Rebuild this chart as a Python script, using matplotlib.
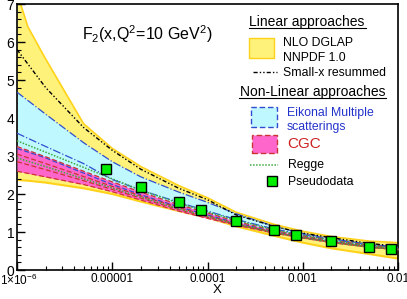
import numpy as np
import matplotlib
matplotlib.use("Agg")
from matplotlib import pyplot as plt
from matplotlib.patches import Rectangle
from matplotlib.lines import Line2D
from matplotlib.transforms import ScaledTranslation
from matplotlib.ticker import FixedLocator, LogLocator, NullFormatter, MultipleLocator

plt.rcParams["font.family"] = ["Liberation Sans", "DejaVu Sans"]
plt.rcParams["mathtext.fontset"] = "custom"
plt.rcParams["mathtext.rm"] = "Liberation Sans"

# x grid shared by all curves
x = [1e-6, 2e-6, 5e-6, 1e-5, 2e-5, 5e-5, 1e-4, 2e-4, 5e-4, 1e-3, 2e-3, 5e-3, 1e-2]

# NNPDF 1.0 band (yellow)
nnpdf_x = [1e-6, 1.3e-6, 2e-6, 5e-6, 1e-5, 2e-5, 5e-5, 1e-4, 2e-4, 5e-4, 1e-3, 2e-3, 5e-3, 1e-2]
nnpdf_up = [7.3, 6.4, 5.55, 3.85, 3.2, 2.72, 2.22, 1.9, 1.52, 1.2, 1.02, 0.88, 0.76, 0.72]
nnpdf_lo = [2.37, 2.35, 2.3, 2.15, 2.0, 1.8, 1.55, 1.38, 1.15, 0.9, 0.72, 0.57, 0.42, 0.3]

# small-x resummed
resum = [5.8, 4.8, 3.75, 3.15, 2.65, 2.15, 1.85, 1.45, 1.15, 0.97, 0.85, 0.7, 0.62]

# eikonal multiple scatterings (cyan)
eik_up = [4.68, 4.1, 3.35, 2.85, 2.45, 2.05, 1.78, 1.48, 1.15, 0.96, 0.82, 0.68, 0.6]
eik_mid = [3.6, 3.25, 2.8, 2.38, 2.1, 1.78, 1.55, 1.33, 1.08, 0.93, 0.8, 0.66, 0.59]
eik_lo = [3.2, 2.95, 2.55, 2.25, 1.98, 1.66, 1.45, 1.24, 1.01, 0.87, 0.75, 0.62, 0.55]

# CGC (pink)
cgc_up = [3.25, 2.98, 2.6, 2.32, 2.05, 1.72, 1.5, 1.28, 1.04, 0.9, 0.78, 0.65, 0.58]
cgc_mid1 = [3.05, 2.8, 2.46, 2.2, 1.95, 1.64, 1.43, 1.22, 0.99, 0.86, 0.74, 0.61, 0.545]
cgc_mid2 = [2.85, 2.64, 2.35, 2.12, 1.89, 1.59, 1.39, 1.2, 0.98, 0.85, 0.73, 0.6, 0.54]
cgc_lo = [2.6, 2.45, 2.25, 2.06, 1.84, 1.55, 1.36, 1.18, 0.97, 0.84, 0.72, 0.6, 0.53]

# Regge
regge1 = [3.4, 3.1, 2.7, 2.4, 2.1, 1.76, 1.53, 1.31, 1.06, 0.91, 0.78, 0.64, 0.57]
regge2 = [2.95, 2.72, 2.4, 2.16, 1.92, 1.61, 1.41, 1.21, 0.99, 0.85, 0.73, 0.6, 0.54]

# pseudodata
pd_x = [8.5e-6, 2e-5, 5e-5, 8.5e-5, 2e-4, 5e-4, 8.5e-4, 2e-3, 5e-3, 8.5e-3]
pd_y = [2.66, 2.18, 1.78, 1.58, 1.29, 1.05, 0.92, 0.76, 0.60, 0.55]

xticks = [1e-6, 1e-5, 1e-4, 1e-3, 1e-2]
xticklabels = [r"1$\times$10$^{-6}$", "0.00001", "0.0001", "0.001", "0.01"]

YEL, YEL_E = "#fff27a", "#ffd21a"
CYAN, BLUE = "#bff8ff", "#2f4fd0"
PINK, RED = "#ff66cc", "#cc3333"
GREEN = "#3faa3f"
DASHDOTDOT = (0, (3, 1.5, 1, 1.5, 1, 1.5))

W, H = 407, 299
fig = plt.figure(figsize=(W / 100, H / 100), dpi=100)
ax = fig.add_axes([17 / W, 1 - 270 / H, (398 - 17) / W, (270 - 4) / H])

ax.fill_between(nnpdf_x, nnpdf_lo, nnpdf_up, color=YEL, lw=0, zorder=1)
ax.plot(nnpdf_x, nnpdf_up, color=YEL_E, lw=1.2, zorder=1.5)
ax.plot(nnpdf_x, nnpdf_lo, color=YEL_E, lw=1.5, zorder=1.5)

ax.fill_between(x, eik_lo, eik_up, color=CYAN, lw=0, zorder=2)
ax.fill_between(x, cgc_lo, cgc_up, color=PINK, lw=0, zorder=3)

ax.plot(x, eik_up, color=BLUE, lw=0.9, ls="-.", zorder=4)
ax.plot(x, eik_mid, color=BLUE, lw=0.9, ls="-.", zorder=4)
ax.plot(x, eik_lo, color=BLUE, lw=0.9, ls=(0, (4, 2)), zorder=4)
for c in (cgc_up, cgc_mid1, cgc_mid2, cgc_lo):
    ax.plot(x, c, color=RED, lw=0.9, ls=(0, (4, 2)), zorder=4)
for c in (regge1, regge2):
    ax.plot(x, c, color=GREEN, lw=1.1, ls=(0, (1, 1)), zorder=4.5)
ax.plot(x, resum, color="black", lw=1.0, ls=DASHDOTDOT, zorder=5)

ax.plot(pd_x, pd_y, ls="none", marker="s", ms=6.5, mfc="#00ee00", mec="black", mew=1.0, zorder=6)

ax.set_xscale("log")
ax.set_xlim(1e-6, 1e-2)
ax.set_ylim(0, 7)
ax.xaxis.set_major_locator(FixedLocator(xticks))
ax.set_xticklabels(xticklabels)
ax.xaxis.set_minor_locator(LogLocator(base=10, subs=np.arange(2, 10)))
ax.xaxis.set_minor_formatter(NullFormatter())
ax.yaxis.set_major_locator(MultipleLocator(1))
ax.yaxis.set_minor_locator(MultipleLocator(0.2))
ax.tick_params(axis="both", which="major", direction="in", length=6, width=1.0, labelsize=10, pad=2)
ax.tick_params(axis="both", which="minor", direction="in", length=3, width=0.8)
ax.tick_params(axis="x", which="major", labelsize=8.5, pad=2)
for s in ax.spines.values():
    s.set_linewidth(1.2)
# first x label starts at the left edge, as in the reference
first = ax.get_xticklabels()[0]
first.set_transform(first.get_transform() + ScaledTranslation(2 / 100, 0, fig.dpi_scale_trans))
ax.set_xlabel("X", fontsize=9.5, labelpad=0)
ax.xaxis.set_label_coords((217 - 17) / (398 - 17), -0.052)


def fx(px):
    return px / W


def fy(py):
    return 1 - py / H


fig.text(fx(147), fy(34), r"F$_2$(x,Q$^2$=10 GeV$^2$)", fontsize=11.5, ha="center", va="center")

# legend drawn by hand
def heading(txt, cx, cy, x0, x1):
    fig.text(fx(cx), fy(cy), txt, fontsize=10, ha="center", va="center")
    fig.add_artist(Line2D([fx(x0), fx(x1)], [fy(cy + 6), fy(cy + 6)], color="black", lw=0.8))


heading("Linear approaches", 307, 22, 249, 366)
fig.add_artist(Rectangle((fx(249), fy(58)), (274 - 249) / W, 20 / H, facecolor=YEL, edgecolor=YEL_E, lw=1.0))
fig.text(fx(283), fy(43), "NLO DGLAP", fontsize=8.8, va="center")
fig.text(fx(283), fy(58), "NNPDF 1.0", fontsize=8.8, va="center")
fig.add_artist(Line2D([fx(253), fx(277)], [fy(72), fy(72)], color="black", lw=1.0, ls=DASHDOTDOT))
fig.text(fx(283), fy(73), "Small-x resummed", fontsize=8.8, va="center")

heading("Non-Linear approaches", 313, 92, 239, 386)
fig.add_artist(Rectangle((fx(251), fy(127)), 26 / W, 20 / H, facecolor=CYAN, edgecolor=BLUE, lw=1.0, ls=(0, (4, 2))))
fig.text(fx(287), fy(113), "Eikonal Multiple", fontsize=8.8, va="center", color="#2233cc")
fig.text(fx(287), fy(127), "scatterings", fontsize=8.8, va="center", color="#2233cc")
fig.add_artist(Rectangle((fx(252), fy(153)), 25 / W, 18 / H, facecolor=PINK, edgecolor=RED, lw=1.0, ls=(0, (4, 2))))
fig.text(fx(287), fy(144), "CGC", fontsize=11, va="center", color="#cc2222")
fig.add_artist(Line2D([fx(250), fx(278)], [fy(165), fy(165)], color=GREEN, lw=1.1, ls=(0, (1, 1))))
fig.text(fx(288), fy(165), "Regge", fontsize=8.8, va="center")
fig.add_artist(Line2D([fx(272)], [fy(181)], ls="none", marker="s", ms=6.5, mfc="#00ee00", mec="black", mew=1.0))
fig.text(fx(288), fy(182), "Pseudodata", fontsize=8.8, va="center")

fig.savefig("out.png", dpi=100)
